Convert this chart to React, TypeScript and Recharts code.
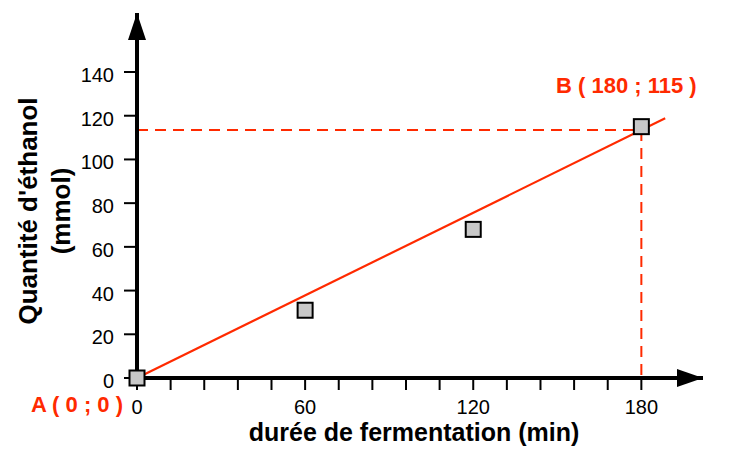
import React from 'react'
import {
  ComposedChart,
  Scatter,
  XAxis,
  YAxis,
  ReferenceLine,
  ReferenceDot,
} from 'recharts'

// measured points (min, mmol)
const durations = [0, 60, 120, 180]
const ethanol = [0, 31, 68, 115]

const xTicks = [0, 12, 24, 36, 48, 60, 72, 84, 96, 108, 120, 132, 144, 156, 168, 180]
const xLabelled = [0, 60, 120, 180]
const yTicks = [0, 20, 40, 60, 80, 100, 120, 140]

// trend line ends and point B used for the dashed guides
const lineStart = { x: -2, y: -1.3 }
const lineEnd = { x: 188.5, y: 118.8 }
const pointB = { x: 180, y: 113.5 }

const xMax = 202
const yMax = 167

const RED = '#ff2a00'
const FONT = '"Liberation Sans", Arial, Helvetica, sans-serif'

const data = durations.map((d, i) => ({ x: d, y: ethanol[i] }))

const SquareMarker = (props: any) => {
  const { cx, cy } = props
  const s = 15
  return <rect x={cx - s / 2} y={cy - s / 2} width={s} height={s} fill="#c8c8c8" stroke="#000" strokeWidth={2} />
}

const ArrowUp = (props: any) => {
  const { cx, cy } = props
  return <polygon points={`${cx},${cy} ${cx - 9},${cy + 27} ${cx + 9},${cy + 27}`} fill="#000" />
}

const ArrowRight = (props: any) => {
  const { cx, cy } = props
  return <polygon points={`${cx},${cy} ${cx - 26},${cy - 9} ${cx - 26},${cy + 9}`} fill="#000" />
}

const XTick = (props: any) => {
  const { x, y, payload } = props
  if (!xLabelled.includes(payload.value)) return null
  return (
    <text x={x} y={y + 14} textAnchor="middle" fontFamily={FONT} fontSize={20} fill="#000">
      {payload.value}
    </text>
  )
}

const YTick = (props: any) => {
  const { x, y, payload } = props
  return (
    <text x={x} y={y + 10} textAnchor="end" fontFamily={FONT} fontSize={20} fill="#000">
      {payload.value}
    </text>
  )
}

const LabelA = (props: any) => {
  const { cx, cy } = props
  return (
    <text x={cx - 14} y={cy + 34} textAnchor="end" fill={RED} fontFamily={FONT} fontWeight="bold" fontSize={22}>
      A ( 0 ; 0 )
    </text>
  )
}

const LabelB = (props: any) => {
  const { cx, cy } = props
  return (
    <text x={cx - 15} y={cy - 34} textAnchor="middle" fill={RED} fontFamily={FONT} fontWeight="bold" fontSize={22}>
      B ( 180 ; 115 )
    </text>
  )
}

const YTitle = () => (
  <g fontFamily={FONT} fontWeight="bold" fontSize={26} fill="#000">
    <text x={37} y={211} transform="rotate(-90, 37, 211)" textAnchor="middle">
      Quantité d'éthanol
    </text>
    <text x={70} y={211} transform="rotate(-90, 70, 211)" textAnchor="middle">
      (mmol)
    </text>
  </g>
)

const XTitle = () => (
  <text x={414} y={441} textAnchor="middle" fontFamily={FONT} fontWeight="bold" fontSize={25} fill="#000">
    durée de fermentation (min)
  </text>
)

export default function App() {
  return (
    <div style={{ position: 'absolute', left: 0, top: 0, width: 729, height: 463, background: '#fff' }}>
      <ComposedChart width={729} height={463} data={data} margin={{ top: 13, right: 26, bottom: 55, left: 77 }}>
        <XAxis
          type="number"
          dataKey="x"
          domain={[0, xMax]}
          ticks={xTicks}
          axisLine={{ stroke: '#000', strokeWidth: 4 }}
          tickLine={{ stroke: '#000', strokeWidth: 2 }}
          tickSize={12}
          tickMargin={10}
          tick={<XTick />}
          height={30}
          label={<XTitle />}
        />
        <YAxis
          type="number"
          dataKey="y"
          domain={[0, yMax]}
          ticks={yTicks}
          axisLine={{ stroke: '#000', strokeWidth: 4 }}
          tickLine={{ stroke: '#000', strokeWidth: 2 }}
          tickSize={13}
          tickMargin={10}
          tick={<YTick />}
          width={60}
          label={<YTitle />}
        />
        <ReferenceDot x={0} y={yMax} ifOverflow="visible" shape={ArrowUp} />
        <ReferenceDot x={xMax} y={0} ifOverflow="visible" shape={ArrowRight} />
        <ReferenceLine
          segment={[{ x: 0, y: pointB.y }, { x: pointB.x, y: pointB.y }]}
          stroke={RED}
          strokeWidth={2}
          strokeDasharray="11 7"
          ifOverflow="visible"
        />
        <ReferenceLine
          segment={[{ x: pointB.x, y: pointB.y }, { x: pointB.x, y: 0 }]}
          stroke={RED}
          strokeWidth={2}
          strokeDasharray="11 7"
          ifOverflow="visible"
        />
        <Scatter data={data} dataKey="y" shape={SquareMarker} isAnimationActive={false} />
        <ReferenceLine segment={[lineStart, lineEnd]} stroke={RED} strokeWidth={2.2} ifOverflow="visible" />
        <ReferenceDot x={0} y={0} ifOverflow="visible" shape={LabelA} />
        <ReferenceDot x={180} y={115} ifOverflow="visible" shape={LabelB} />
      </ComposedChart>
    </div>
  )
}
